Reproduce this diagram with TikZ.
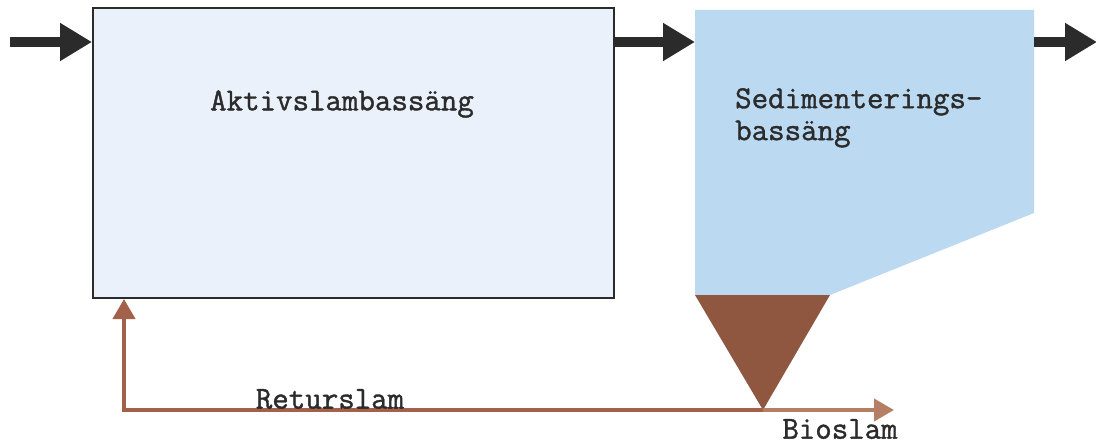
\documentclass[tikz,border=0pt]{standalone}
\usepackage{fontspec}
\usepackage{tikz}
\usetikzlibrary{arrows.meta, positioning}
\setmonofont{Latin Modern Mono}[FakeBold=1.2]
\definecolor{aktFill}{HTML}{EAF1FB}
\definecolor{sedFill}{HTML}{BBDAF2}
\definecolor{slamBrown}{HTML}{8F5640}
\definecolor{returBrown}{HTML}{A3604A}
\definecolor{bioBrown}{HTML}{B57F66}
\definecolor{inkGray}{HTML}{2B2B2B}

\begin{document}
\begin{tikzpicture}[x=1pt, y=-1pt,
  every node/.style={font=\ttfamily\fontsize{32}{32}\selectfont, text=inkGray},
  aktbox/.style={draw=inkGray, fill=aktFill, line width=2pt,
                 minimum width=521pt, minimum height=290pt, inner sep=0pt},
  flow/.style={-{Triangle[length=32pt, width=36pt]}, line width=10pt, inkGray},
  slam/.style={-{Triangle[length=20pt, width=22pt]}, line width=4pt},
]
  \useasboundingbox (0,0) rectangle (1096,444);

  \node[aktbox] (akt) at (353.5,153) {};
  \node (aktlabel) at (342,104) {Aktivslambassäng};

  \coordinate (sedTL) at (695,10);
  \coordinate (sedTR) at (1034,10);
  \coordinate (sedR) at (1034,213);
  \coordinate (sedBR) at (830,295);
  \coordinate (sedBL) at (695,295);
  \coordinate (tip) at (763,410);
  \fill[sedFill] (sedTL) -- (sedTR) -- (sedR) -- (sedBR) -- (sedBL) -- cycle;
  \fill[slamBrown] (sedBL) -- (sedBR) -- (tip) -- cycle;
  \node[anchor=north west, align=left, inner sep=0pt] (sedlabel) at (735,88)
    {Sedimenterings-\\bassäng};

  \coordinate (in) at (10,42);
  \coordinate (out) at (1097,42);
  \draw[flow] (in) -- (in -| akt.west);
  \draw[flow] (in -| akt.east) -- (in -| sedTL);
  \draw[flow] (in -| sedTR) -- (out);

  \coordinate (retur) at (124,410);
  \coordinate (bio) at (894,410);
  \draw[slam, returBrown] (tip) -- (retur) -- (retur |- akt.south);
  \draw[slam, bioBrown] (tip) -- (bio);

  \node (returlabel) at (330,399) {Returslam};
  \node (biolabel) at (840,429) {Bioslam};
\end{tikzpicture}
\end{document}
